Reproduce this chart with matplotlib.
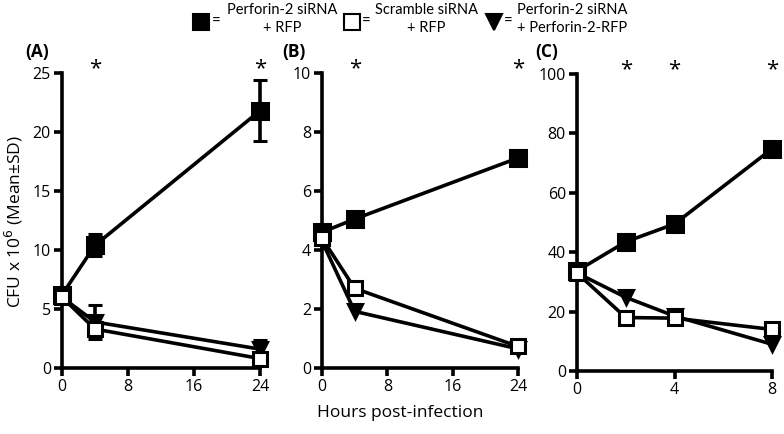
import matplotlib
matplotlib.use("Agg")
import matplotlib.pyplot as plt

# ---- data ----
a_x = [0, 4, 24]
a_perf = [6.2, 10.4, 21.8]
a_perf_sd = [0.5, 0.95, 2.6]
a_scr = [6.0, 3.3, 0.8]
a_scr_sd = [0.4, 0.6, 0.5]
a_tri = [6.0, 3.9, 1.6]
a_tri_sd = [0.4, 1.4, 0.8]

b_x = [0, 4, 24]
b_perf = [4.6, 5.05, 7.12]
b_scr = [4.4, 2.7, 0.73]
b_tri = [4.3, 1.92, 0.65]

c_x = [0, 2, 4, 8]
c_perf = [33.7, 43.5, 49.5, 74.8]
c_scr = [33.0, 18.0, 17.8, 14.0]
c_tri = [33.0, 24.8, 18.5, 9.0]

a_ticks_x = [0, 8, 16, 24]
b_ticks_x = [0, 8, 16, 24]
c_ticks_x = [0, 4, 8]
a_ticks_y = [0, 5, 10, 15, 20, 25]
b_ticks_y = [0, 2, 4, 6, 8, 10]
c_ticks_y = [0, 20, 40, 60, 80, 100]
a_stars = [4, 24]
b_stars = [4, 24]
c_stars = [2, 4, 8]

legend_labels = ["Perforin-2 siRNA\n+ RFP", "Scramble siRNA\n+ RFP",
                 "Perforin-2 siRNA\n+ Perforin-2-RFP"]

W, H = 784, 434
fig = plt.figure(figsize=(W / 100, H / 100), dpi=100)
FONT = "Open Sans"
LW = 2.6


def add_axes(x0, x1, y0, y1):
    return fig.add_axes([x0 / W, 1 - y1 / H, (x1 - x0) / W, (y1 - y0) / H])


def style(ax, xlim, ylim, xt, yt, stars, label, lab_x):
    ax.set_xlim(*xlim)
    ax.set_ylim(*ylim)
    ax.set_xticks(xt)
    ax.set_yticks(yt)
    for s in ["top", "right"]:
        ax.spines[s].set_visible(False)
    for s in ["left", "bottom"]:
        ax.spines[s].set_linewidth(LW)
        ax.spines[s].set_capstyle("projecting")
    ax.tick_params(width=LW, length=6, direction="out", labelsize=11.5, pad=2)
    for t in ax.get_xticklabels() + ax.get_yticklabels():
        t.set_fontfamily(FONT)
    for sx in stars:
        ax.text(sx, ylim[1] * 1.015, "*", ha="center", va="center",
                fontsize=16, fontfamily=FONT, clip_on=False)
    fig.text(lab_x / W, 1 - 52 / H, label, fontsize=12.5, fontweight="bold",
             fontfamily=FONT, ha="left", va="center")


def plot_series(ax, x, y, sd, marker, fc, ms):
    ax.errorbar(x, y, yerr=sd, color="black", lw=LW, marker=marker, ms=ms,
                mfc=fc, mec="black", mew=2.2, capsize=5, capthick=LW,
                elinewidth=LW, clip_on=False, zorder=3)


axA = add_axes(62, 260, 73, 368)
plot_series(axA, a_x, a_perf, a_perf_sd, "s", "black", 11)
plot_series(axA, a_x, a_tri, a_tri_sd, "v", "black", 10)
plot_series(axA, a_x, a_scr, a_scr_sd, "s", "white", 10)
style(axA, (0, 24), (0, 25), a_ticks_x, a_ticks_y, a_stars, "(A)", 25)

axB = add_axes(322, 518, 73, 368)
plot_series(axB, b_x, b_perf, None, "s", "black", 11)
plot_series(axB, b_x, b_tri, None, "v", "black", 10)
plot_series(axB, b_x, b_scr, None, "s", "white", 10)
style(axB, (0, 24), (0, 10), b_ticks_x, b_ticks_y, b_stars, "(B)", 282)

axC = add_axes(577, 772, 74, 371)
plot_series(axC, c_x, c_perf, None, "s", "black", 11)
plot_series(axC, c_x, c_tri, None, "v", "black", 10)
plot_series(axC, c_x, c_scr, None, "s", "white", 10)
style(axC, (0, 8), (0, 100), c_ticks_x, c_ticks_y, c_stars, "(C)", 535)

# axis labels
fig.text(400 / W, 1 - 413 / H, "Hours post-infection", ha="center", va="center",
         fontsize=12.5, fontfamily=FONT)
fig.text(14 / W, 1 - 222 / H, r"CFU x 10$^{6}$ (Mean±SD)", ha="center",
         va="center", rotation=90, fontsize=12.5, fontfamily=FONT)

# legend at top
leg_ax = fig.add_axes([0, 0, 1, 1])
leg_ax.set_xlim(0, W)
leg_ax.set_ylim(H, 0)
leg_ax.axis("off")
items = [(201, 216, "s", "black", 227), (352, 366, "s", "white", 375),
         (494, 508, "v", "black", 517)]
for (mx, ex, mk, fc, tx), lab in zip(items, legend_labels):
    leg_ax.plot([mx], [22], marker=mk, ms=12, mfc=fc, mec="black", mew=1.5,
                color="black", ls="none")
    leg_ax.text(ex, 22, "=", ha="center", va="center", fontsize=11,
                fontfamily="Lato")
    leg_ax.text(tx, 19, lab, ha="left", va="center", fontsize=10.5,
                fontfamily="Lato", linespacing=1.3, multialignment="center")

fig.savefig("out.png", dpi=100)
